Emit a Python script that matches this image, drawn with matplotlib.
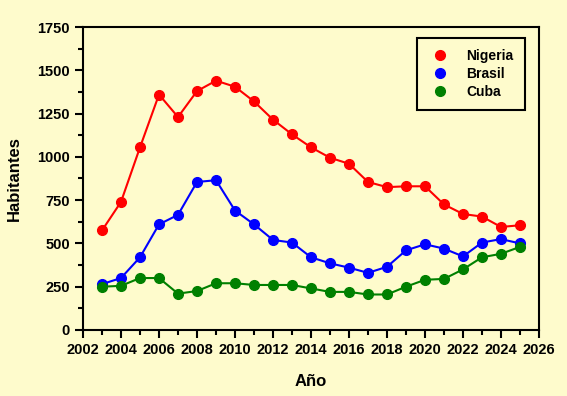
import matplotlib
matplotlib.use("Agg")
import matplotlib.pyplot as plt
from matplotlib.lines import Line2D
from matplotlib.ticker import MultipleLocator

years = list(range(2003, 2026))
nigeria = [575, 740, 1055, 1360, 1230, 1380, 1440, 1405, 1320, 1215, 1130, 1055,
           995, 960, 855, 825, 830, 830, 725, 670, 655, 595, 605]
brasil = [265, 300, 420, 610, 665, 855, 865, 690, 610, 520, 505, 420,
          385, 360, 330, 365, 460, 495, 470, 425, 505, 525, 500]
cuba = [250, 255, 300, 300, 210, 225, 270, 270, 260, 260, 260, 240,
        220, 220, 205, 205, 250, 290, 295, 350, 420, 440, 480]
series = [("Nigeria", nigeria, "#FF0000"), ("Brasil", brasil, "#0000FF"), ("Cuba", cuba, "#008000")]

bg = "#FEFBCC"
plt.rcParams['font.family'] = ['Liberation Sans', 'DejaVu Sans']
fig = plt.figure(figsize=(5.67, 3.96), dpi=100, facecolor=bg)
ax = fig.add_axes([0.1464, 0.1667, 0.8042, 0.7651], facecolor=bg)

handles = []
for name, vals, col in series:
    ax.plot(years, vals, color=col, lw=1.5, marker='o', markersize=7, zorder=3)
    handles.append(Line2D([], [], color=col, marker='o', markersize=7, linestyle='None', label=name))

ax.set_xlim(2002, 2026)
ax.set_ylim(0, 1750)
ax.xaxis.set_major_locator(MultipleLocator(2))
ax.xaxis.set_minor_locator(MultipleLocator(1))
ax.yaxis.set_major_locator(MultipleLocator(250))
ax.yaxis.set_minor_locator(MultipleLocator(125))
ax.tick_params(which='major', direction='out', length=6, width=1.5, labelsize=10.5)
ax.tick_params(which='minor', direction='out', length=3.5, width=1.5)
ax.tick_params(top=False, right=False, which='both')
for lab in ax.get_xticklabels() + ax.get_yticklabels():
    lab.set_fontweight('bold')
for sp in ax.spines.values():
    sp.set_linewidth(1.5)

ax.set_xlabel("Año", fontsize=12, fontweight='bold', labelpad=12)
ax.set_ylabel("Habitantes", fontsize=12, fontweight='bold', labelpad=11)

leg = ax.legend(handles=handles, loc='upper right', bbox_to_anchor=(0.969, 0.964),
                borderaxespad=0,
                fancybox=False, frameon=True, edgecolor='black', facecolor=bg,
                framealpha=1, prop={'weight': 'bold', 'size': 10}, handletextpad=1.0,
                borderpad=0.8, labelspacing=0.3, handlelength=1.8)
leg.get_frame().set_linewidth(1.5)

fig.savefig("out.png", dpi=100, facecolor=bg)
